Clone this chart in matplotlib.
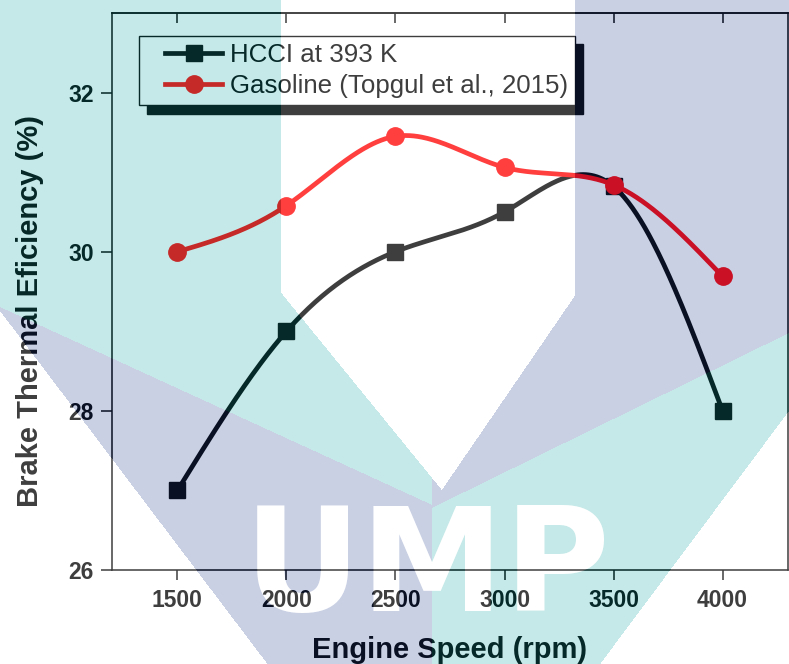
import numpy as np
import matplotlib
matplotlib.use("Agg")
import matplotlib.pyplot as plt
from matplotlib.lines import Line2D
from matplotlib.legend_handler import HandlerLine2D

# ---------------- data ----------------
speed = [1500, 2000, 2500, 3000, 3500, 4000]
hcci_bte = [27.0, 29.0, 30.0, 30.5, 30.82, 28.0]
gasoline_bte = [30.0, 30.58, 31.45, 31.06, 30.84, 29.69]
series_labels = ["HCCI at 393 K", "Gasoline (Topgul et al., 2015)"]
xticks = [1500, 2000, 2500, 3000, 3500, 4000]
yticks = [26, 28, 30, 32]

W, H = 789, 664
FONT = ["Liberation Sans", "DejaVu Sans"]
plt.rcParams["font.family"] = FONT


def natural_spline(x, y, xs):
    x = np.asarray(x, float); y = np.asarray(y, float)
    n = len(x); h = np.diff(x)
    A = np.zeros((n, n)); r = np.zeros(n)
    A[0, 0] = A[-1, -1] = 1.0
    for i in range(1, n - 1):
        A[i, i - 1] = h[i - 1]; A[i, i] = 2 * (h[i - 1] + h[i]); A[i, i + 1] = h[i]
        r[i] = 6 * ((y[i + 1] - y[i]) / h[i] - (y[i] - y[i - 1]) / h[i - 1])
    M = np.linalg.solve(A, r)
    out = np.empty_like(xs)
    for k, t in enumerate(xs):
        i = min(max(np.searchsorted(x, t) - 1, 0), n - 2)
        a = x[i + 1] - t; b = t - x[i]
        out[k] = (M[i] * a**3 + M[i + 1] * b**3) / (6 * h[i]) + \
                 (y[i] / h[i] - M[i] * h[i] / 6) * a + (y[i + 1] / h[i] - M[i + 1] * h[i] / 6) * b
    return out


fig = plt.figure(figsize=(W / 100, H / 100), dpi=100)
ax = fig.add_axes([112 / W, (H - 570) / H, 676 / W, 557 / H])

xs = np.linspace(speed[0], speed[-1], 400)
red = "#ff0000"
ax.plot(xs, natural_spline(speed, hcci_bte, xs), color="black", lw=3.4, zorder=3)
ax.plot(speed, hcci_bte, ls="none", marker="s", ms=11, color="black", zorder=4)
ax.plot(xs, natural_spline(speed, gasoline_bte, xs), color=red, lw=3.4, zorder=5)
ax.plot(speed, gasoline_bte, ls="none", marker="o", ms=12.5, color=red, zorder=6)

ax.set_xlim(1200, 4300)
ax.set_ylim(26, 33)
ax.set_xticks(xticks)
ax.set_yticks(yticks)
for s in ax.spines.values():
    s.set_linewidth(1.1)
    s.set_color("black")
ax.tick_params(axis="x", which="major", direction="out", length=7.5, width=1.1,
               top=False, labelsize=16.5, pad=6)
ax.tick_params(axis="y", which="major", direction="out", length=8, width=1.1,
               right=False, labelsize=16.5, pad=5)
for lab in ax.get_xticklabels() + ax.get_yticklabels():
    lab.set_fontweight("bold")
# inward ticks on the top spine
sec = ax.secondary_xaxis("top")
sec.set_xticks(xticks)
sec.tick_params(direction="in", length=7.5, width=1.1, labelsize=0)
sec.set_xticklabels([])
sec.spines["top"].set_linewidth(1.1)

ax.set_xlabel("Engine Speed (rpm)", fontsize=21, fontweight="bold")
ax.xaxis.set_label_coords(0.5, -0.118)
ax.set_ylabel("Brake Thermal Eficiency (%)", fontsize=21, fontweight="bold")
ax.yaxis.set_label_coords(-0.1, 0.465)

handles = [
    Line2D([], [], color="black", lw=3.4, marker="s", ms=11),
    Line2D([], [], color=red, lw=3.4, marker="o", ms=12.5),
]
hmap = {h: HandlerLine2D(xpad=0.72) for h in handles}
leg = ax.legend(handles, series_labels, loc="upper left",
                bbox_to_anchor=((139 - 112) / 676, 0, 436 / 676, (570 - 36) / 557),
                mode="expand", handler_map=hmap,
                borderaxespad=0, fontsize=18.6, frameon=True, fancybox=False,
                edgecolor="black", facecolor="white", framealpha=1,
                handlelength=2.95, handletextpad=0.3, labelspacing=0.26,
                borderpad=0.28,
                shadow={"ox": 6, "oy": -6, "facecolor": "black", "edgecolor": "black", "alpha": 1})
leg.get_frame().set_linewidth(1.0)
leg.set_zorder(10)

# ---------------- UMP watermark (semi-transparent overlay) ----------------
ump_kw = dict(fontsize=104, fontweight="bold", family=["DejaVu Sans"], ha="left", va="baseline")
ump_pos = (244 / W, (H - 611) / H)

# mask of the letters, rendered with identical settings on a scratch figure
mfig = plt.figure(figsize=(W / 100, H / 100), dpi=100)
mfig.text(*ump_pos, "UMP", color="black", **ump_kw)
mfig.canvas.draw()
mbuf = np.asarray(mfig.canvas.buffer_rgba())[:H, :W, 0].astype(float)
plt.close(mfig)
cover = 1 - mbuf / 255.0

yy, xx = np.mgrid[0:H, 0:W] + 0.5
teal = np.array([23, 167, 163]) / 255
purp = np.array([39, 67, 147]) / 255
rgb = np.ones((H, W, 3))
L1 = 307 + 0.458 * xx          # upper edge of left (purple) band
L3 = 311 + 1.32 * xx           # lower edge of left band
L2 = 333 + 0.49 * (789 - xx)   # upper edge of right (teal) band
L4 = 411 + 1.34 * (789 - xx)   # lower edge of right band
VL = 300 + 1.227 * (xx - 287)
VR = 300 - 1.46 * (xx - 572)
white_v = (xx > 281) & (xx < 575) & (yy < VL) & (yy < VR)
left = xx < 432
tealTL = left & (yy <= L1) & ~white_v
purpTR = ~left & (yy <= L2) & ~white_v
purpB = left & (yy > L1) & (yy < L3)
tealB = ~left & (yy > L2) & (yy < L4)
rgb[tealTL | tealB] = teal
rgb[purpTR | purpB] = purp
alpha = 0.25 * (1 - cover)
rgba = np.dstack([rgb, alpha])

ov = fig.add_axes([0, 0, 1, 1], zorder=20)
ov.imshow(rgba, extent=[0, W, H, 0], aspect="auto", interpolation="nearest")
ov.set_xlim(0, W); ov.set_ylim(H, 0)
ov.axis("off")
fig.text(*ump_pos, "UMP", color="white", alpha=0.25, zorder=30, **ump_kw)

fig.savefig("out.png", dpi=100)
